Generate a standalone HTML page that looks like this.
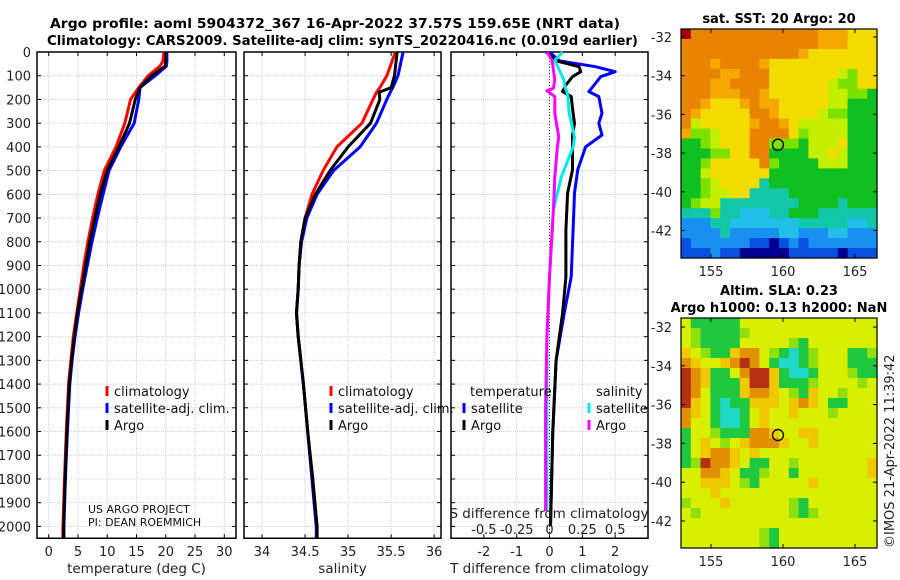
<!DOCTYPE html>
<html><head><meta charset="utf-8"><style>
body{margin:0;background:#fff}
svg{display:block;font-family:"DejaVu Sans","Liberation Sans",sans-serif}
</style></head><body>
<svg id="fig" width="900" height="580" viewBox="0 0 900 580" xmlns="http://www.w3.org/2000/svg">
<text x="50" y="28" textLength="570" lengthAdjust="spacingAndGlyphs" font-size="13.5" font-weight="bold">Argo profile: aoml 5904372_367 16-Apr-2022 37.57S 159.65E (NRT data)</text>
<text x="47" y="45" textLength="591" lengthAdjust="spacingAndGlyphs" font-size="13.5" font-weight="bold">Climatology: CARS2009. Satellite-adj clim: synTS_20220416.nc (0.019d earlier)</text>
<g id="g"></g>
</svg>
<script>
// ---------- data ----------
var depthTicks=[0,100,200,300,400,500,600,700,800,900,1000,1100,1200,1300,1400,1500,1600,1700,1800,1900,2000];
var tempTicks=[0,5,10,15,20,25,30];
var salTicks=[34,34.5,35,35.5,36];
var tdiffTicks=[-2,-1,0,1,2];
var sdiffTicks=[-0.5,-0.25,0,0.25,0.5];
var tDepth=[0,40,60,100,150,200,300,400,500,600,700,800,900,1000,1100,1200,1300,1400,1600,1800,2000,2050];
var tClim=[19.7,19.5,19.0,17.0,15.4,14.0,13.0,11.5,9.5,8.4,7.5,6.7,6.0,5.4,4.8,4.2,3.8,3.4,3.0,2.7,2.45,2.4];
var tSat=[20.2,20.2,20.1,18.2,15.6,15.4,14.6,12.3,10.3,9.3,8.3,7.4,6.6,5.8,5.1,4.5,4.0,3.6,3.2,2.85,2.6,2.6];
var tArgo=[20.0,20.0,19.9,17.6,15.6,14.8,13.8,12.0,10.0,8.8,7.9,7.0,6.3,5.6,4.9,4.35,3.9,3.5,3.1,2.8,2.55,2.55];
var sDepth=[0,100,150,170,200,300,400,500,600,700,800,900,1000,1100,1200,1400,1600,1800,2000,2050];
var sClim=[35.55,35.45,35.37,35.33,35.29,35.16,34.87,34.71,34.58,34.5,34.45,34.43,34.42,34.40,34.42,34.48,34.53,34.58,34.63,34.64];
var sSat=[35.64,35.58,35.52,35.49,35.45,35.33,35.14,34.83,34.64,34.52,34.46,34.43,34.42,34.40,34.42,34.48,34.53,34.58,34.63,34.63];
var sArgo=[35.57,35.54,35.5,35.36,35.37,35.26,35.0,34.79,34.62,34.5,34.45,34.43,34.42,34.40,34.42,34.48,34.53,34.59,34.64,34.64];
var dDepth=[0,37,62,83,104,139,167,188,258,300,350,400,497,595,750,948,1100,1300,1600,2000];
var dTsat=[0,0.3,1.4,2.0,1.56,1.36,1.2,1.5,1.6,1.5,1.6,1.1,0.86,0.76,0.72,0.66,0.45,0.2,0.1,0.03];
var dTargo=[-0.1,0.2,0.9,0.95,0.7,0.5,0.4,0.66,0.72,0.76,0.7,0.7,0.7,0.55,0.5,0.5,0.4,0.2,0.1,0.03];
var sdDepth=[0,35,118,153,163,188,258,358,400,527,666,948,1200,1500,1935];
var dSsat=[0.1,0.04,0.11,0.12,0.13,0.14,0.15,0.19,0.18,0.09,0.03,0.0,-0.02,-0.02,-0.02];
var dSargo=[-0.02,0.02,0.04,0.03,-0.02,0.04,0.04,0.07,0.06,0.04,0.03,0.0,-0.02,-0.03,-0.03];
var sstRows=["ROOOOOOOOOOOOOoooYYY","OOOOOOOOOOOOOOoooYYY","OOOOOOOOOOOOoYYYYYYY","OOOoOOOOoYYYYYYYYYYY","OOOOooOOOYYYYYYYygYY","OOOooOOOOYYYYYYyggYY","OOOoooOOoYYYYYYyyggG","OOoYYYoOooYYYYYyyGGG","OoYYYYYOOoYYYYyggGGG","OyYYYYYoOOoYyyyyyGGG","oggyYYYOOOOYgyyyyGGG","GGgyYYYOOgggGyyyYGGG","GGGggYYOOGGGGyyYyGGG","GGgYYYYYOgGGGGyyyGGG","GGyYYYYYYGGGGGGGGGGG","GGgyYYYYcGGGGGGGGGGG","GGgyyYYccccGGGGGGGGG","GgyyccccccccGGGGcGGG","cccgccCCCccGGGcccccc","BBBccCCCCCCCcccccCCc","BBBBcBBBBBCCBBBCCBBB","bBBBBBBbbNbBbBBBBBBB","bbbBbbNNNNNbbbbbNbbb"];
var slaRows=["YGGGGGYYYYYYYYYYYYYY","YgGGGGgYYYYYYYYYYYYY","YgGGGGYYYYYgGYYYYYYY","oYgGGoOOYgGCGgYYYGGg","OoYYoOROYGCCGgYYYGGG","ROoGGYORRoGCCGYYYgGG","ROoGGGoRRoGGGgYYYYgY","ROYGGGoOOoYgGoYYgYYY","RoYGCGGoooYoOoYGGYYY","OoYGCCGYoYYoYYYgYYYY","OYYGCCGYoYYYYYYYYYYY","GYYgGGGOOoYYooYYYYYY","GYoYgYoOOOoYYoYYYYYY","GYoOOoYoYYYYYYYYYYYY","GgROOoYGGYYgYYYYYYYo","YYOOoYGGgYYGYYYYYYYo","YYoooYgGYYYYYoYYYYYY","YYYoYYYYYYYYYYYYYYYY","gYYYoYYYYYYgGYYYYYYY","YgYYYYYYYYYgGgYYYYYY","YYYYYYYYYYYYYYYYYYYY","YYYYYYYYgGYYYYYYYYYY","YYYYYYYYgGYYYYYYYYYY"];
var lonTicks=[155,160,165];
var latTicks=[-32,-34,-36,-38,-40,-42];
var argoLon=159.65, argoLat=-37.57;

var sstColors={R:"#a80000",O:"#e88400",o:"#f4a800",Y:"#f4dc00",y:"#c4f000",g:"#7ce000",G:"#10c020",c:"#10c8a8",C:"#20c0e8",B:"#1890f0",b:"#0850e0",N:"#000090"};
var slaColors={Y:"#d8f000",g:"#90e010",G:"#20c840",C:"#20d8c8",o:"#f0c800",O:"#e09000",R:"#b43010"};

var NS="http://www.w3.org/2000/svg", G=document.getElementById("g");
function el(t,a,p){var e=document.createElementNS(NS,t);for(var k in a)e.setAttribute(k,a[k]);(p||G).appendChild(e);return e;}
function yD(d){return 52+d*0.2372;}
var panels=[
 {x0:37,x1:236,lo:-2,hi:32,ticks:tempTicks,lab:"temperature (deg C)",name:"temperature"},
 {x0:244,x1:441,lo:33.79,hi:36.08,ticks:salTicks,lab:"salinity",name:"salinity"},
 {x0:451,x1:648,lo:-3,hi:3,ticks:tdiffTicks,lab:"T difference from climatology",name:"difference"}];
function sx(p,v){return p.x0+(v-p.lo)/(p.hi-p.lo)*(p.x1-p.x0);}
var yB=yD(2050);
panels.forEach(function(p,i){
  depthTicks.forEach(function(d){
    var l=el("line",{x1:p.x0,x2:p.x1,y1:yD(d),y2:yD(d),stroke:"#ccd0ec","stroke-width":1,"stroke-dasharray":"1,1"});
    
    
    el("line",{x1:p.x0,x2:p.x0+4,y1:yD(d),y2:yD(d),stroke:"#000"});
    el("line",{x1:p.x1-4,x2:p.x1,y1:yD(d),y2:yD(d),stroke:"#000"});
    if(i==0){var t=el("text",{x:31,y:yD(d)+5,"text-anchor":"end","font-size":13,fill:"#222"});t.textContent=d;
      
      }
  });
  p.ticks.forEach(function(v){
    var x=sx(p,v);
    var l=el("line",{x1:x,x2:x,y1:52,y2:yB,stroke:"#ccd0ec","stroke-dasharray":"1,1"});
    
    
    el("line",{x1:x,x2:x,y1:yB,y2:yB-4,stroke:"#000"});
    el("line",{x1:x,x2:x,y1:52,y2:56,stroke:"#000"});
    var t=el("text",{x:x,y:556,"text-anchor":"middle","font-size":13,fill:"#222"});t.textContent=v;
    
    
  });
  var r=el("rect",{x:p.x0,y:52,width:p.x1-p.x0,height:yB-52,fill:"none",stroke:"#000","stroke-width":1.5});
  
  
  var t=el("text",{x:(p.x0+p.x1)/2,y:573,"text-anchor":"middle","font-size":13.5,fill:"#222"});t.textContent=p.lab;
  
  
});
function line(p,xs,ds,col,w,name,scale){
  var pts=xs.map(function(v,k){return sx(p,v*(scale||1)).toFixed(1)+","+yD(ds[k]).toFixed(1);}).join(" ");
  var l=el("polyline",{points:pts,fill:"none",stroke:col,"stroke-width":w,"stroke-linejoin":"round"});
  
  
}
var P=panels;
var z=el("line",{x1:sx(P[2],0),x2:sx(P[2],0),y1:52,y2:yB,stroke:"#333","stroke-dasharray":"1,2"});


line(P[0],tClim,tDepth,"#f00",3,"temp-climatology-line");
line(P[0],tSat,tDepth,"#00f",3,"temp-satellite-line");
line(P[0],tArgo,tDepth,"#000",3,"temp-argo-line");
line(P[1],sClim,sDepth,"#f00",3,"sal-climatology-line");
line(P[1],sSat,sDepth,"#00f",3,"sal-satellite-line");
line(P[1],sArgo,sDepth,"#000",3,"sal-argo-line");
line(P[2],dTsat,dDepth,"#00f",3,"tdiff-satellite-line");
line(P[2],dTargo,dDepth,"#000",3,"tdiff-argo-line");
line(P[2],dSsat,sdDepth,"#00e8e8",3,"sdiff-satellite-line",4);
line(P[2],dSargo,sdDepth,"#f0f",3,"sdiff-argo-line",4);
var st=el("text",{x:549,y:518,"text-anchor":"middle","font-size":13.5,fill:"#222"});st.textContent="S difference from climatology";


sdiffTicks.forEach(function(v){
  var t=el("text",{x:sx(P[2],v*4),y:534,"text-anchor":"middle","font-size":13,fill:"#222"});t.textContent=v;
  
  
});
function leg(x,y,col,txt,name){
  var m=el("line",{x1:x,x2:x,y1:y-10,y2:y,stroke:col,"stroke-width":3});
  
  
  var t=el("text",{x:x+7,y:y,"font-size":13,fill:"#111"});t.textContent=txt;
  
  
}
[[107,"#f00","climatology"],[107,"#00f","satellite-adj. clim."],[107,"#000","Argo"]].forEach(function(a,k){leg(a[0],396+k*17,a[1],a[2],'legend-entry');});
[[331,"#f00","climatology"],[331,"#00f","satellite-adj. clim."],[331,"#000","Argo"]].forEach(function(a,k){leg(a[0],396+k*17,a[1],a[2],'legend-entry');});
var lt=el("text",{x:470,y:396,"font-size":13,fill:"#111"});lt.textContent="temperature";


var ls=el("text",{x:596,y:396,"font-size":13,fill:"#111"});ls.textContent="salinity";


leg(464,413,"#00f","satellite",'legend-entry');leg(464,430,"#000","Argo",'legend-entry');
leg(589,413,"#00e8e8","satellite",'legend-entry');leg(589,430,"#f0f","Argo",'legend-entry');
var c1=el("text",{x:88,y:513,"font-size":11,fill:"#111"});c1.textContent="US ARGO PROJECT";


var c2=el("text",{x:88,y:526,"font-size":11,fill:"#111"});c2.textContent="PI: DEAN ROEMMICH";


function map(rows,cols,y0,y1,lat32y,degPx,title,name){
  var x0=681,x1=877,nr=rows.length,nc=rows[0].length,cw=(x1-x0)/nc,ch=(y1-y0)/nr;
  rows.forEach(function(r,i){for(var j=0;j<nc;j++){
    var c=el("rect",{x:(x0+j*cw).toFixed(2),y:(y0+i*ch).toFixed(2),width:(cw+0.6).toFixed(2),height:(ch+0.6).toFixed(2),fill:cols[r[j]]});
    
    
  }});
  function lx(lon){return 711+(lon-155)*14.4;}
  function ly(lat){return lat32y+(-32-lat)*degPx;}
  var b=el("rect",{x:x0,y:y0,width:x1-x0,height:y1-y0,fill:"none",stroke:"#000","stroke-width":1.2});
  
  
  lonTicks.forEach(function(v){
    el("line",{x1:lx(v),x2:lx(v),y1:y1,y2:y1-4,stroke:"#000"});el("line",{x1:lx(v),x2:lx(v),y1:y0,y2:y0+4,stroke:"#000"});
    var t=el("text",{x:lx(v),y:y1+18,"text-anchor":"middle","font-size":13,fill:"#222"});t.textContent=v;
    
    
  });
  latTicks.forEach(function(v){
    el("line",{x1:x0,x2:x0+4,y1:ly(v),y2:ly(v),stroke:"#000"});el("line",{x1:x1-4,x2:x1,y1:ly(v),y2:ly(v),stroke:"#000"});
    var t=el("text",{x:672,y:ly(v)+5,"text-anchor":"end","font-size":13,fill:"#222"});t.textContent=v;
    
    
  });
  var c=el("circle",{cx:lx(argoLon),cy:ly(argoLat),r:5.5,fill:"none",stroke:"#000","stroke-width":1.3});
  
  
  title.forEach(function(s,k){
    var t=el("text",{x:779,y:s[1],"text-anchor":"middle","font-size":13,"font-weight":"bold"});t.textContent=s[0];
    
    
  });
}
map(sstRows,sstColors,29,258,37,19.35,[["sat. SST: 20 Argo: 20",23]],"sst-map");
map(slaRows,slaColors,318,548,327,19.4,[["Altim. SLA: 0.23",295],["Argo h1000: 0.13 h2000: NaN",312]],"sla-map");
var cp=el("text",{x:0,y:0,"font-size":13,fill:"#222",transform:"translate(894,548) rotate(-90)"});cp.textContent="©IMOS 21-Apr-2022 11:39:42";


</script>
</body></html>
